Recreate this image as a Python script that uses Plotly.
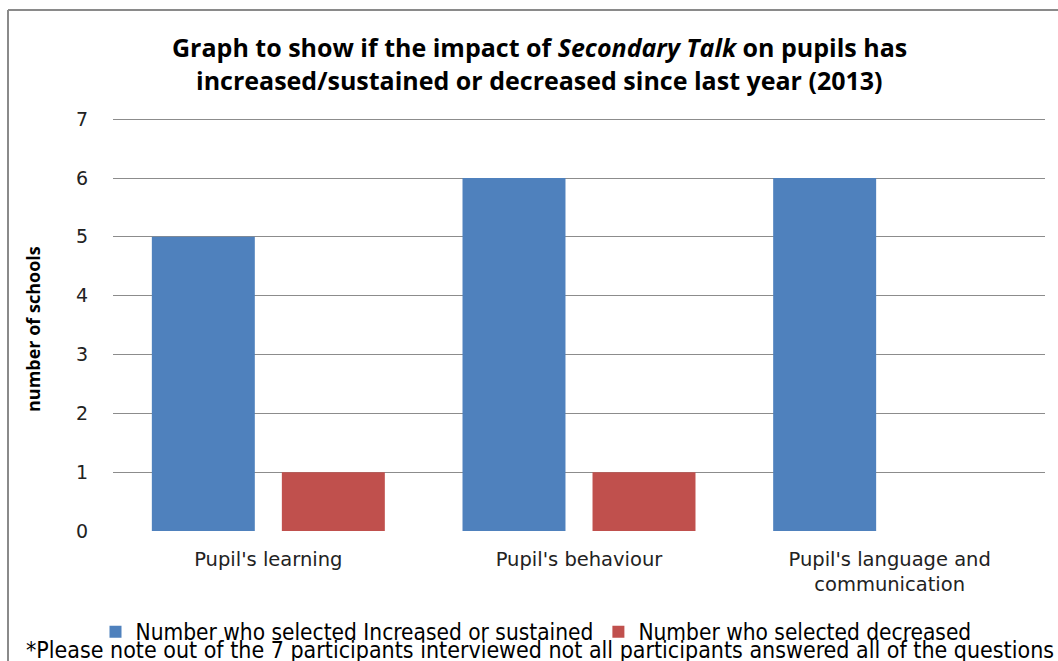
import plotly.graph_objects as go

categories = ["Pupil's learning", "Pupil's behaviour", "Pupil's language and<br>communication"]
increased = [5, 6, 6]
decreased = [1, 1, 0]
series_names = ["Number who selected Increased or sustained", "Number who selected decreased"]
y_ticks = [0, 1, 2, 3, 4, 5, 6, 7]
title_lines = ["Graph to show if the impact of <i>Secondary Talk</i> on pupils has",
               "increased/sustained or decreased since last year (2013)"]
y_title = "number of schools"
footnote = "*Please note out of the 7 participants interviewed not all participants answered all of the questions"

BLUE = "#4F81BD"
RED = "#C0504D"

W, H = 1058, 661
L, R, T, B = 113, 13, 118, 130
pw, ph = W - L - R, H - T - B

def px2x(p):
    return (p - L) / pw

def py2y(p):
    return (H - B - p) / ph

NARROW = "Liberation Sans Narrow, DejaVu Sans Condensed, sans-serif"

fig = go.Figure()
fig.add_trace(go.Bar(x=categories, y=increased, name=series_names[0], marker=dict(color=BLUE, line=dict(width=0))))
fig.add_trace(go.Bar(x=categories, y=decreased, name=series_names[1], marker=dict(color=RED, line=dict(width=0))))

fig.update_layout(
    width=W, height=H,
    margin=dict(l=L, r=R, t=T, b=B, autoexpand=False),
    paper_bgcolor="white", plot_bgcolor="white",
    barmode="group", bargap=0.163, bargroupgap=0.208,
    showlegend=True,
    legend=dict(orientation="h", x=px2x(536), xanchor="center", y=py2y(632), yanchor="middle",
                font=dict(family=NARROW, size=22.5, color="#000"),
                bgcolor="rgba(0,0,0,0)", itemwidth=30, tracegroupgap=0),
    xaxis=dict(showgrid=False, showline=False, zeroline=False, ticks="",
               tickfont=dict(family="DejaVu Sans, sans-serif", size=19.5, color="#222"),
               ticklabelstandoff=14),
    yaxis=dict(range=[0, 7.02], tickvals=y_ticks, showgrid=True, gridcolor="#8c8c8c", gridwidth=1,
               zeroline=False, showline=False, ticks="",
               tickfont=dict(family="DejaVu Sans, sans-serif", size=19, color="#222"),
               ticklabelstandoff=24),
)

# title (two lines)
for txt, yp in zip(title_lines, [47, 80]):
    fig.add_annotation(
        text=txt, xref="paper", yref="paper", x=px2x(539), y=py2y(yp), xanchor="center", yanchor="middle",
        showarrow=False, font=dict(family="Open Sans, sans-serif", size=25, color="#000", weight="bold"),
    )

# y-axis title
fig.add_annotation(
    text=y_title, xref="paper", yref="paper", x=px2x(33), y=py2y(329), xanchor="center", yanchor="middle",
    textangle=-90, showarrow=False,
    font=dict(family="Open Sans, sans-serif", size=18, color="#000", weight="bold"),
)

# footnote
fig.add_annotation(
    text=footnote, xref="paper", yref="paper", x=px2x(540), y=py2y(650), xanchor="center", yanchor="middle",
    showarrow=False, font=dict(family=NARROW, size=23, color="#000"),
)

# outer chart border (left and top)
fig.add_shape(type="line", xref="paper", yref="paper", x0=px2x(8), x1=px2x(8), y0=py2y(10), y1=py2y(670),
              line=dict(color="#8a8a8a", width=2))
fig.add_shape(type="line", xref="paper", yref="paper", x0=px2x(8), x1=px2x(1070), y0=py2y(10), y1=py2y(10),
              line=dict(color="#8a8a8a", width=2))

fig.write_html("out.html")
